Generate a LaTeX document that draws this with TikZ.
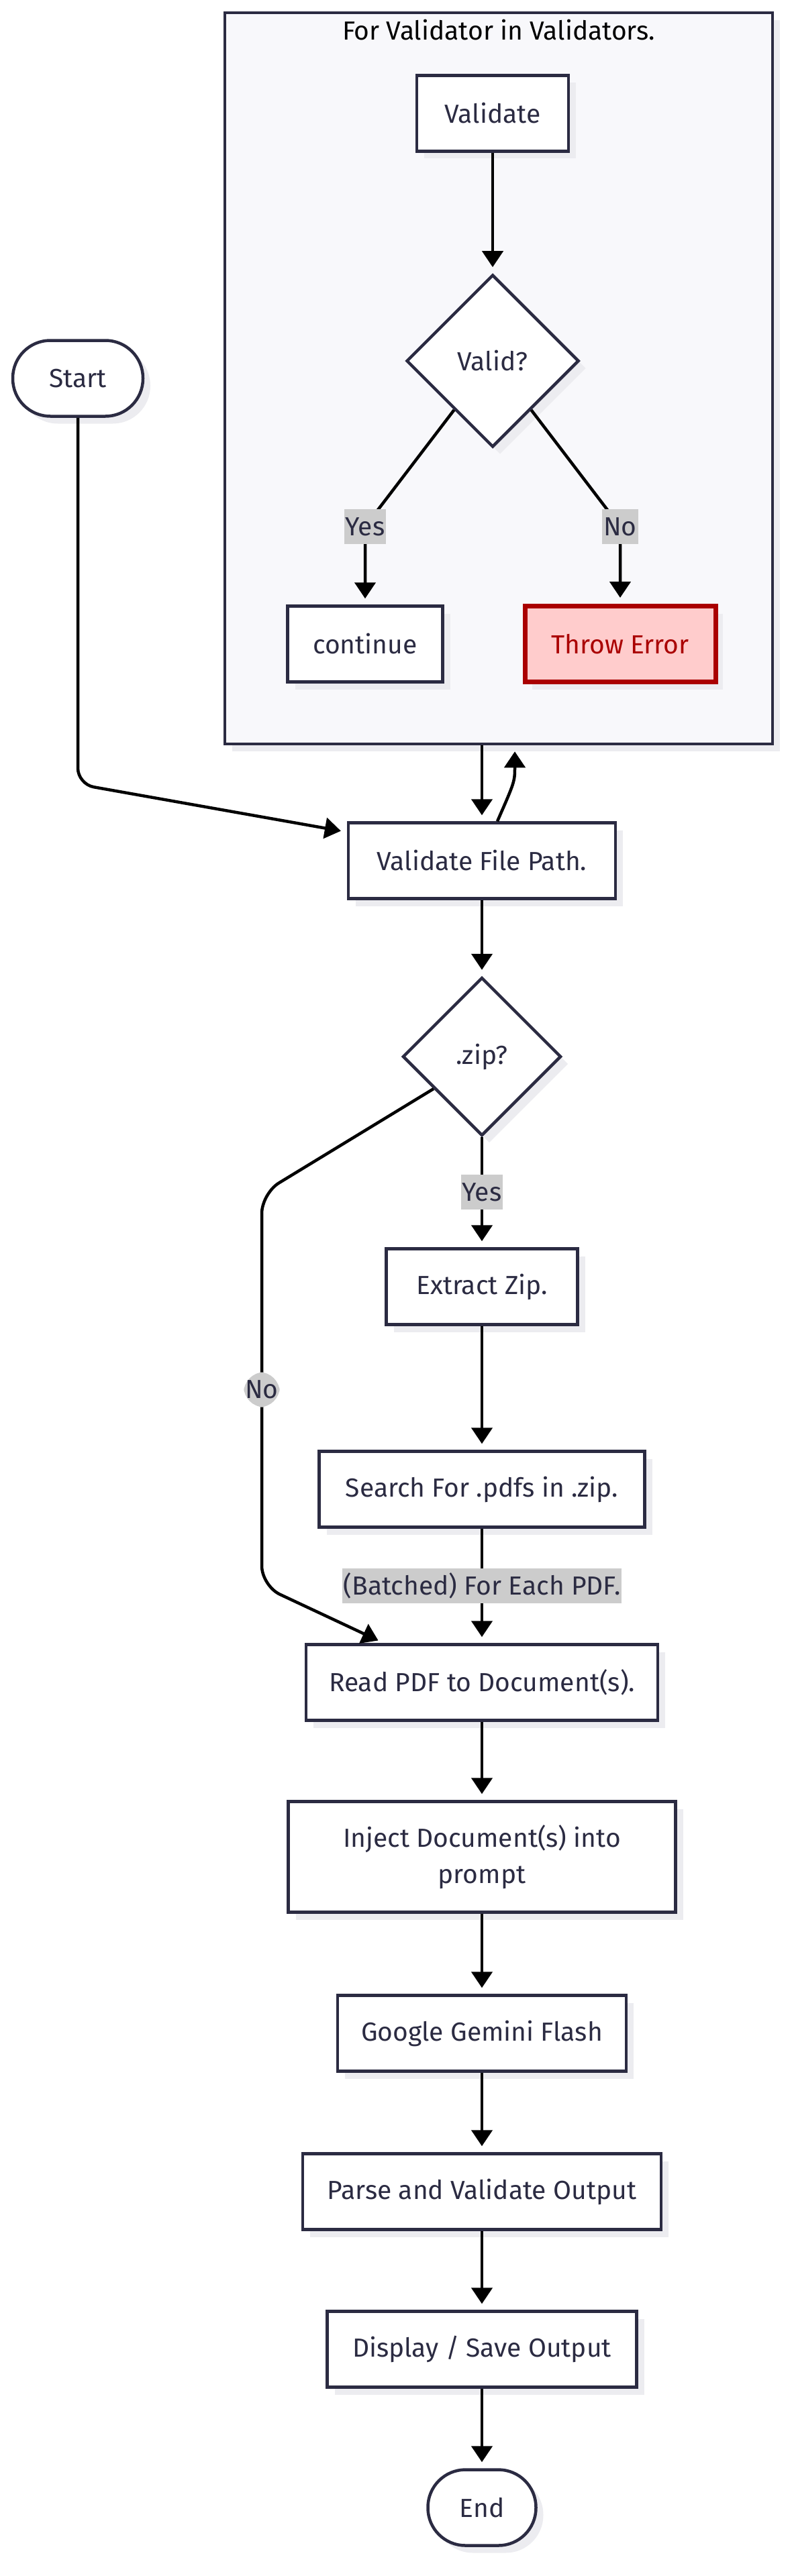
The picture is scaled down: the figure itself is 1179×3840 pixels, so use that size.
\documentclass[tikz,border=0pt]{standalone}
\usepackage{fontspec}
\setmainfont{Fira Sans}
\usetikzlibrary{arrows.meta,calc,shapes.geometric,shadows}

\definecolor{ink}{HTML}{2B2B42}
\definecolor{paper}{HTML}{F8F8FB}
\definecolor{shade}{HTML}{ECECF0}
\definecolor{tagbg}{HTML}{CCCCCC}
\definecolor{errline}{HTML}{AA0000}
\definecolor{errfill}{HTML}{FFCCCC}

\begin{document}
\begin{tikzpicture}[x=1pt, y=-1pt,
    font=\fontsize{39}{54}\selectfont,
    proc/.style={draw=ink, text=ink, fill=white, line width=4.5pt,
      minimum height=113pt, inner sep=0pt,
      drop shadow={shadow xshift=11pt, shadow yshift=-11pt, fill=shade, opacity=1}},
    terminal/.style={proc, rounded corners=56pt},
    decide/.style={proc, diamond, aspect=1},
    edgelabel/.style={fill=tagbg, text=ink, inner sep=2pt, minimum height=52pt},
    link/.style={-{Triangle[length=24pt, width=31pt]}, line width=4.5pt, shorten >=9pt}]

  \useasboundingbox (0,0) rectangle (1179,3840);

  % validator loop
  \node (Loop)      at (743,564)  [proc, fill=paper, minimum width=816pt, minimum height=1090pt] {};
  \node (LoopTitle) at (743,45)   [text=black] {For Validator in Validators.};
  \node (Val)       at (734,169)  [proc, minimum width=226pt] {Validate};
  \node (Valid)     at (734,538)  [decide, minimum width=257pt, minimum height=257pt] {Valid?};
  \node (Cont)      at (544,960)  [proc, minimum width=231pt] {continue};
  \node (Err)       at (924,960)  [proc, minimum width=284pt, draw=errline, fill=errfill,
                                   text=errline, line width=7pt] {Throw Error};

  % main flow
  \node (Start)   at (116,564)  [terminal, minimum width=194pt] {Start};
  \node (Path)    at (718,1283) [proc, minimum width=398pt] {Validate File Path.};
  \node (Zip)     at (718,1575) [decide, minimum width=236pt, minimum height=236pt] {.zip?};
  \node (Extract) at (718,1918) [proc, minimum width=285pt] {Extract Zip.};
  \node (Search)  at (718,2220) [proc, minimum width=485pt] {Search For .pdfs in .zip.};
  \node (Read)    at (718,2508) [proc, minimum width=524pt] {Read PDF to Document(s).};
  \node (Inject)  at (718,2768) [proc, minimum width=577pt, minimum height=165pt, align=center]
    {Inject Document(s) into\\prompt};
  \node (Gemini)  at (718,3031) [proc, minimum width=430pt] {Google Gemini Flash};
  \node (Parse)   at (718,3267) [proc, minimum width=534pt] {Parse and Validate Output};
  \node (Save)    at (718,3502) [proc, minimum width=461pt] {Display / Save Output};
  \node (End)     at (718,3738) [terminal, minimum width=161pt] {End};

  \draw[link] ($(Valid.west)!.56!(Valid.south)$) -- (544,785) node[edgelabel] {Yes} -- (Cont);
  \draw[link] ($(Valid.south)!.44!(Valid.east)$) -- (924,785) node[edgelabel] {No} -- (Err);

  \draw[link, rounded corners=24pt] (Start) -- (116,1169) -- ($(Path.north west)+(0,16)$);
  \draw[link] (Loop.south -| Path.north) -- (Path);
  \draw[link] ($(Path.north)+(23,0)$) .. controls (767,1165) .. ($(Loop.south)+(24,0)$);

  \draw[link, rounded corners=30pt] ($(Zip.west)!.4!(Zip.south)$) -- (390,1779)
    -- node[edgelabel] {No} (390,2364) -- ($(Read.north west)+(118,0)$);

  \path[link]
    (Val)     edge (Valid)
    (Path)    edge (Zip)
    (Zip)     edge node[edgelabel] {Yes} (Extract)
    (Extract) edge (Search)
    (Search)  edge node[edgelabel] {(Batched) For Each PDF.} (Read)
    (Read)    edge (Inject)
    (Inject)  edge (Gemini)
    (Gemini)  edge (Parse)
    (Parse)   edge (Save)
    (Save)    edge (End);
\end{tikzpicture}
\end{document}
